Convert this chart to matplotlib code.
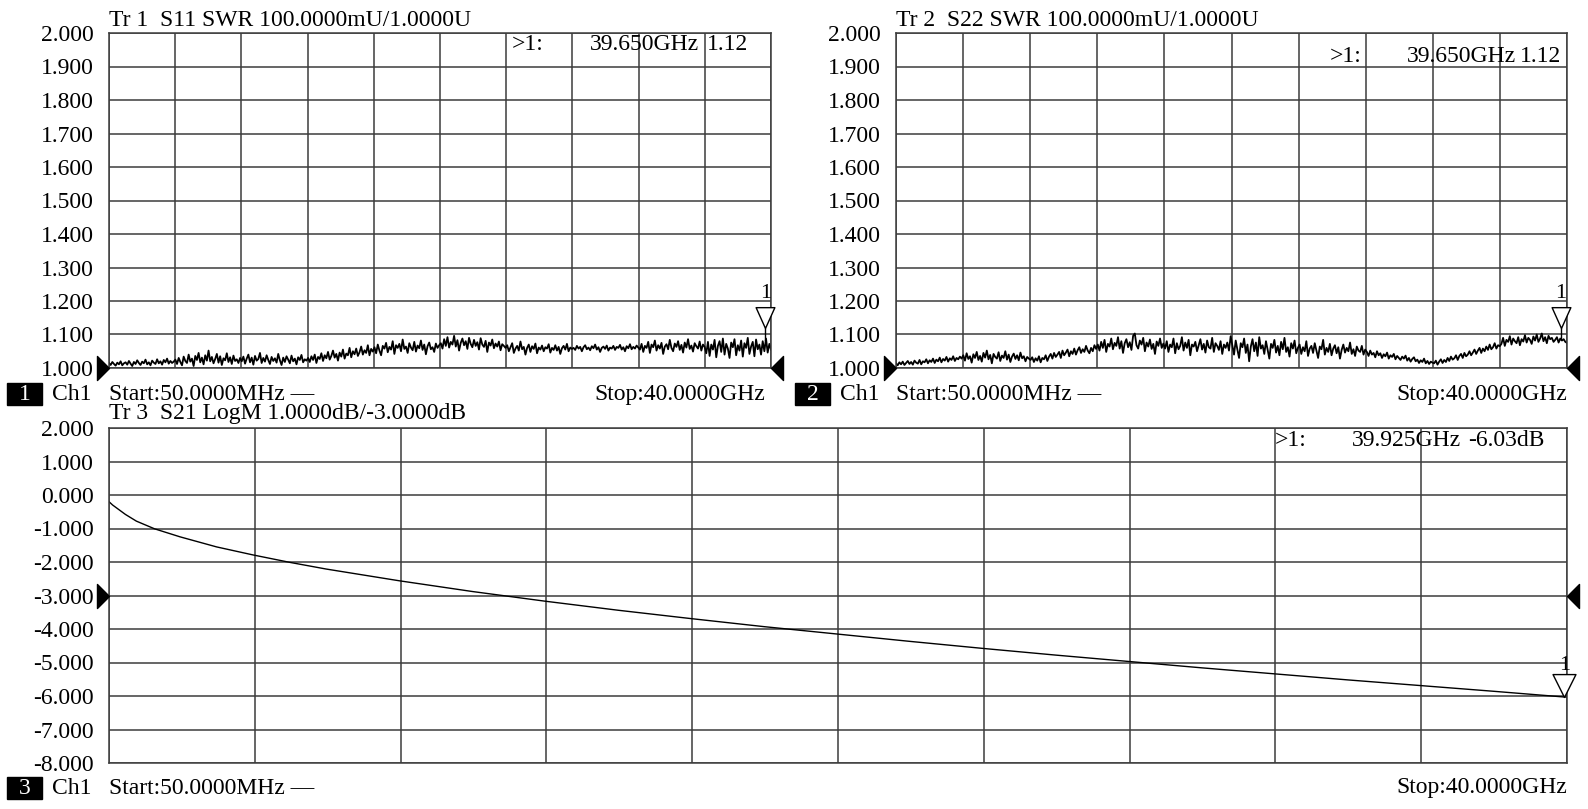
import numpy as np
import matplotlib
matplotlib.use("Agg")
import matplotlib.pyplot as plt
from matplotlib.path import Path
from matplotlib.patches import Rectangle

# ---------------- data ----------------
start_ghz = 0.05
stop_ghz = 40.0

# S11 SWR trace, excess above 1.000 in milli-units (mU)
s11_excess_mU = [
    15, 9, 18, 12, 7, 16, 11, 20, 8, 14, 17, 10, 21, 13, 6, 18, 12, 23, 15, 9,
    19, 14, 25, 11, 17, 8, 22, 16, 12, 26, 14, 20, 10, 24, 17, 28, 13, 21, 15, 19,
    25, 12, 30, 18, 8, 34, 21, 15, 40, 19, 28, 6, 36, 24, 45, 17, 31, 11, 38, 22,
    52, 20, 33, 14, 27, 42, 16, 35, 9, 29, 23, 44, 18, 32, 12, 37, 21, 26, 15, 30,
    20, 34, 13, 28, 40, 17, 31, 10, 36, 22, 27, 45, 15, 30, 19, 38, 24, 12, 33, 21,
    29, 16, 42, 23, 9, 31, 18, 35, 25, 14, 37, 20, 28, 11, 32, 24, 39, 17, 26, 22,
    30, 18, 35, 24, 40, 15, 33, 27, 44, 21, 38, 29, 48, 25, 36, 52, 31, 42, 22, 46,
    34, 55, 28, 43, 38, 60, 32, 50, 41, 58, 36, 47, 64, 40, 53, 45, 68, 38, 57, 49,
    62, 44, 70, 52, 38, 66, 58, 75, 47, 63, 55, 80, 42, 68, 60, 72, 50, 85, 57, 64,
    45, 74, 61, 53, 78, 49, 67, 59, 82, 54, 70, 41, 65, 76, 56, 62, 48, 73, 60, 68,
    74, 58, 86, 66, 92, 61, 78, 70, 96, 64, 83, 52, 75, 88, 68, 80, 57, 90, 72, 62,
    84, 66, 77, 55, 89, 70, 63, 81, 48, 76, 67, 85, 59, 73, 64, 79, 53, 71, 66, 60,
    68, 50, 62, 74, 45, 58, 66, 52, 79, 56, 63, 40, 60, 70, 48, 65, 57, 73, 44, 61,
    55, 67, 50, 62, 58, 71, 46, 60, 54, 68, 52, 63, 42, 59, 66, 55, 72, 50, 61, 57,
    60, 54, 66, 58, 63, 50, 62, 68, 56, 61, 53, 65, 59, 70, 55, 62, 48, 60, 64, 57,
    67, 52, 61, 58, 66, 54, 63, 60, 69, 55, 62, 50, 65, 59, 71, 56, 63, 58, 67, 61,
    55, 72, 48, 66, 60, 78, 45, 70, 62, 82, 52, 68, 58, 75, 42, 64, 71, 56, 84, 60,
    50, 73, 63, 80, 54, 69, 46, 76, 61, 86, 57, 67, 49, 74, 65, 58, 79, 52, 70, 63,
    44, 78, 36, 70, 55, 84, 32, 66, 80, 48, 88, 40, 72, 58, 30, 76, 62, 86, 38, 68,
    52, 82, 34, 74, 60, 90, 42, 64, 78, 35, 85, 56, 70, 40, 80, 50, 88, 46, 72, 55,
]

# S22 SWR trace, excess above 1.000 in milli-units (mU)
s22_excess_mU = [
    14, 8, 17, 11, 19, 9, 15, 21, 12, 18, 10, 22, 16, 13, 24, 11, 20, 17, 26, 14,
    23, 18, 28, 15, 25, 20, 31, 17, 27, 22, 33, 19, 29, 24, 35, 21, 30, 26, 34, 28,
    38, 22, 44, 27, 35, 16, 41, 30, 48, 24, 36, 19, 45, 31, 52, 26, 39, 14, 42, 33,
    28, 47, 21, 37, 30, 50, 25, 40, 18, 34, 43, 27, 38, 23, 46, 29, 35, 20, 33, 28,
    24, 32, 18, 29, 22, 35, 17, 30, 26, 38, 21, 34, 42, 28, 45, 33, 40, 48, 30, 52,
    38, 46, 55, 35, 50, 42, 58, 40, 53, 62, 45, 56, 48, 66, 52, 44, 60, 50, 68, 57,
    70, 52, 78, 60, 84, 48, 72, 64, 88, 56, 75, 66, 92, 58, 80, 45, 74, 86, 62, 77,
    54, 96, 103, 68, 58, 82, 70, 90, 50, 76, 64, 85, 57, 72, 42, 79, 66, 88, 60, 73,
    58, 80, 48, 70, 62, 88, 44, 74, 56, 66, 92, 52, 76, 60, 84, 38, 70, 64, 78, 50,
    68, 86, 55, 72, 46, 82, 62, 58, 90, 48, 74, 66, 54, 80, 42, 70, 60, 76, 52, 95,
    68, 40, 82, 55, 30, 74, 62, 88, 45, 70, 20, 64, 86, 50, 76, 36, 92, 58, 68, 42,
    80, 54, 28, 72, 60, 84, 46, 66, 38, 78, 56, 90, 48, 62, 34, 74, 58, 82, 44, 60,
    70, 42, 62, 50, 80, 36, 58, 66, 45, 74, 52, 30, 64, 56, 84, 40, 60, 48, 72, 38,
    58, 68, 44, 62, 28, 54, 70, 46, 60, 50, 76, 42, 56, 36, 64, 52, 48, 66, 40, 55,
    48, 36, 52, 40, 45, 32, 50, 38, 44, 30, 41, 35, 46, 28, 38, 33, 42, 26, 36, 30,
    24, 34, 28, 37, 22, 30, 19, 27, 32, 20, 25, 15, 23, 18, 28, 14, 21, 12, 19, 16,
    14, 22, 10, 19, 26, 15, 24, 18, 30, 21, 34, 25, 29, 38, 24, 36, 42, 30, 45, 35,
    40, 50, 38, 46, 55, 42, 52, 60, 45, 58, 50, 64, 54, 70, 56, 62, 74, 58, 68, 65,
    72, 90, 66, 84, 78, 95, 70, 88, 80, 74, 92, 68, 86, 79, 98, 76, 90, 84, 72, 94,
    82, 100, 78, 88, 103, 80, 92, 74, 96, 86, 90, 78, 84, 92, 76, 88, 82, 86, 78, 75,
]

# S21 LogM trace
s21_freq_ghz = [0.05, 0.15, 0.3, 0.5, 0.8, 1.3, 2.0, 3.0, 4.0, 5.0, 6.0, 8.0, 10.0,
                12.0, 14.0, 16.0, 18.0, 20.0, 22.0, 24.0, 26.0, 28.0, 30.0, 32.0,
                34.0, 36.0, 38.0, 39.925, 40.0]
s21_db = [-0.20, -0.30, -0.42, -0.58, -0.78, -1.01, -1.25, -1.55, -1.79, -2.01,
          -2.21, -2.56, -2.88, -3.17, -3.44, -3.69, -3.93, -4.15, -4.37, -4.58,
          -4.78, -4.97, -5.16, -5.34, -5.52, -5.69, -5.86, -6.03, -6.03]

swr_ticks = [1.0, 1.1, 1.2, 1.3, 1.4, 1.5, 1.6, 1.7, 1.8, 1.9, 2.0]
logm_ticks = [2.0, 1.0, 0.0, -1.0, -2.0, -3.0, -4.0, -5.0, -6.0, -7.0, -8.0]
swr_ref = 1.0
logm_ref = -3.0

s11_marker = (39.650, 1.12)
s22_marker = (39.650, 1.12)
s21_marker = (39.925, -6.03)

titles = ["Tr 1  S11 SWR 100.0000mU/1.0000U",
          "Tr 2  S22 SWR 100.0000mU/1.0000U",
          "Tr 3  S21 LogM 1.0000dB/-3.0000dB"]
readouts = [(">1:", "39.650GHz", "1.12"),
            (">1:", "39.650GHz", "1.12"),
            (">1:", "39.925GHz", "-6.03dB")]
start_label = "Start:50.0000MHz \u2014"
stop_label = "Stop:40.0000GHz"

# ---------------- figure ----------------
plt.rcParams['font.family'] = ['Liberation Serif', 'DejaVu Serif']
W, H = 1588, 809
fig = plt.figure(figsize=(W / 100, H / 100), dpi=100)
fig.patch.set_facecolor('white')

FS = 17
GRID = '#3c3c3c'


def fx(x):
    return x / W


def fy(y):
    return 1 - y / H


def rect(l, t, r, b):
    return [l / W, 1 - b / H, (r - l) / W, (b - t) / H]


ref_left = Path([(0, 0), (-1, 1), (-1, -1), (0, 0)],
                [Path.MOVETO, Path.LINETO, Path.LINETO, Path.CLOSEPOLY])
ref_right = Path([(0, 0), (1, 1), (1, -1), (0, 0)],
                 [Path.MOVETO, Path.LINETO, Path.LINETO, Path.CLOSEPOLY])
mk_stem = Path([(0, 0), (-0.45, 1), (0.45, 1), (0, 0), (0, 0), (0, -0.6)],
               [Path.MOVETO, Path.LINETO, Path.LINETO, Path.CLOSEPOLY,
                Path.MOVETO, Path.LINETO])
mk_plain = Path([(0, 0), (-0.5, 1), (0.5, 1), (0, 0)],
                [Path.MOVETO, Path.LINETO, Path.LINETO, Path.CLOSEPOLY])


def setup(ax, ticks, ref):
    ax.set_xlim(start_ghz, stop_ghz)
    ax.set_ylim(min(ticks), max(ticks))
    ax.set_xticks(np.linspace(start_ghz, stop_ghz, 11))
    ax.set_xticklabels([])
    ax.set_yticks(ticks)
    ax.set_yticklabels([f"{v:.3f}" for v in ticks], fontsize=FS)
    ax.tick_params(length=0, pad=11)
    ax.grid(True, color=GRID, lw=1.1)
    for s in ax.spines.values():
        s.set_color(GRID)
        s.set_linewidth(1.1)
    ax.plot([start_ghz], [ref], marker=ref_left, ms=17.3, color='black',
            clip_on=False, zorder=5)
    ax.plot([stop_ghz], [ref], marker=ref_right, ms=17.3, color='black',
            clip_on=False, zorder=5)


def marker(ax, m, path, ms, dy):
    ax.plot([m[0]], [m[1]], marker=path, ms=ms, mfc='white', mec='black',
            mew=1.0, ls='none', clip_on=False, zorder=6)
    ax.annotate("1", xy=m, xytext=(0, dy), textcoords='offset points',
                ha='center', va='center', fontsize=FS - 1, annotation_clip=False)


# Top-left: S11
ax1 = fig.add_axes(rect(109, 33, 771, 368))
setup(ax1, swr_ticks, swr_ref)
f11 = np.linspace(start_ghz, stop_ghz, len(s11_excess_mU))
ax1.plot(f11, 1 + np.array(s11_excess_mU) / 1000.0, color='black', lw=1.3)
marker(ax1, s11_marker, mk_stem, 30, 25)

# Top-right: S22
ax2 = fig.add_axes(rect(896, 33, 1567, 368))
setup(ax2, swr_ticks, swr_ref)
f22 = np.linspace(start_ghz, stop_ghz, len(s22_excess_mU))
ax2.plot(f22, 1 + np.array(s22_excess_mU) / 1000.0, color='black', lw=1.3)
marker(ax2, s22_marker, mk_stem, 30, 25)

# Bottom: S21
ax3 = fig.add_axes(rect(109, 428, 1567, 763))
setup(ax3, logm_ticks, logm_ref)
ax3.plot(s21_freq_ghz, s21_db, color='black', lw=1.0)
marker(ax3, s21_marker, mk_plain, 33, 23)


# ---------------- texts ----------------
def t(x, y, s, ha='left', color='black'):
    fig.text(fx(x), fy(y), s, ha=ha, va='center', fontsize=FS, color=color)


t(109, 21, titles[0])
t(896, 21, titles[1])
t(109, 414, titles[2])

# marker readouts
t(512, 45, readouts[0][0]); t(590, 45, readouts[0][1]); t(707, 45, readouts[0][2])
t(1330, 57, readouts[1][0]); t(1407, 57, readouts[1][1]); t(1520, 57, readouts[1][2])
t(1275, 440, readouts[2][0]); t(1352, 440, readouts[2][1]); t(1468, 440, readouts[2][2])

# footers
for (bx, by, num, sx, ex) in [(7, 383, "1", 109, 765), (795, 383, "2", 896, 1567),
                               (7, 777, "3", 109, 1567)]:
    fig.patches.append(Rectangle((fx(bx), fy(by + 22)), 35 / W, 22 / H,
                                 transform=fig.transFigure, color='black'))
    t(bx + 17.5, by + 11, num, ha='center', color='white')
    t(bx + 45, by + 11, "Ch1")
    t(sx, by + 11, start_label)
    t(ex, by + 11, stop_label, ha='right')

fig.savefig("out.png", dpi=100, facecolor='white')
